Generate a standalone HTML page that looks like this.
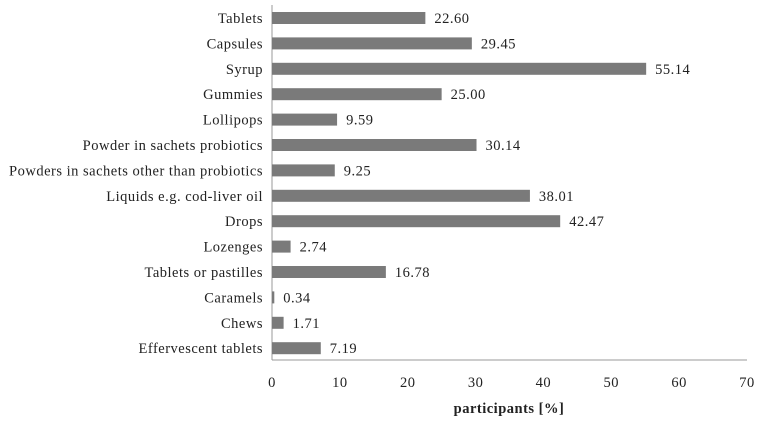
<!DOCTYPE html>
<html><head><meta charset="utf-8"><style>
body{margin:0;background:#fff;}
svg text{font-family:"Liberation Serif",serif;font-size:14.5px;letter-spacing:0.5px;fill:#222;}
</style></head><body>
<svg width="760" height="422">
<g id="plot"></g>
</svg>
<script>
const categories=["Tablets","Capsules","Syrup","Gummies","Lollipops","Powder in sachets probiotics","Powders in sachets other than probiotics","Liquids e.g. cod-liver oil","Drops","Lozenges","Tablets or pastilles","Caramels","Chews","Effervescent tablets"];
const values=[22.60,29.45,55.14,25.00,9.59,30.14,9.25,38.01,42.47,2.74,16.78,0.34,1.71,7.19];
const valueLabels=["22.60","29.45","55.14","25.00","9.59","30.14","9.25","38.01","42.47","2.74","16.78","0.34","1.71","7.19"];
const ticks=[0,10,20,30,40,50,60,70];
const NS="http://www.w3.org/2000/svg";
const g=document.getElementById('plot');
const x0=272,x1=747,yTop=18,step=25.4;
const xs=v=>x0+(v/70)*(x1-x0);
const yc=i=>yTop+i*step;
function mk(t,a,txt){const e=document.createElementNS(NS,t);for(const k in a)e.setAttribute(k,a[k]);if(txt!==undefined)e.textContent=txt;g.appendChild(e);return e;}
let ax=mk('line',{x1:x0,y1:5,x2:x0,y2:360,stroke:'#999'});

let bx=mk('line',{x1:x0,y1:360,x2:x1,y2:360,stroke:'#999'});

ticks.forEach(t=>{const e=mk('text',{x:xs(t),y:387,'text-anchor':'middle'},String(t));
});
categories.forEach((c,i)=>{
const l=mk('text',{x:263,y:yc(i)+5,'text-anchor':'end'},c);

const w=Math.max(xs(values[i])-x0,1);
const r=mk('rect',{x:x0,y:yc(i)-6,width:w,height:12,fill:'#7a7a7a'});

const v=mk('text',{x:xs(values[i])+9,y:yc(i)+5},valueLabels[i]);

});
const tt=mk('text',{x:509,y:413,'text-anchor':'middle','font-weight':'bold'},'participants [%]');

</script>
</body></html>
